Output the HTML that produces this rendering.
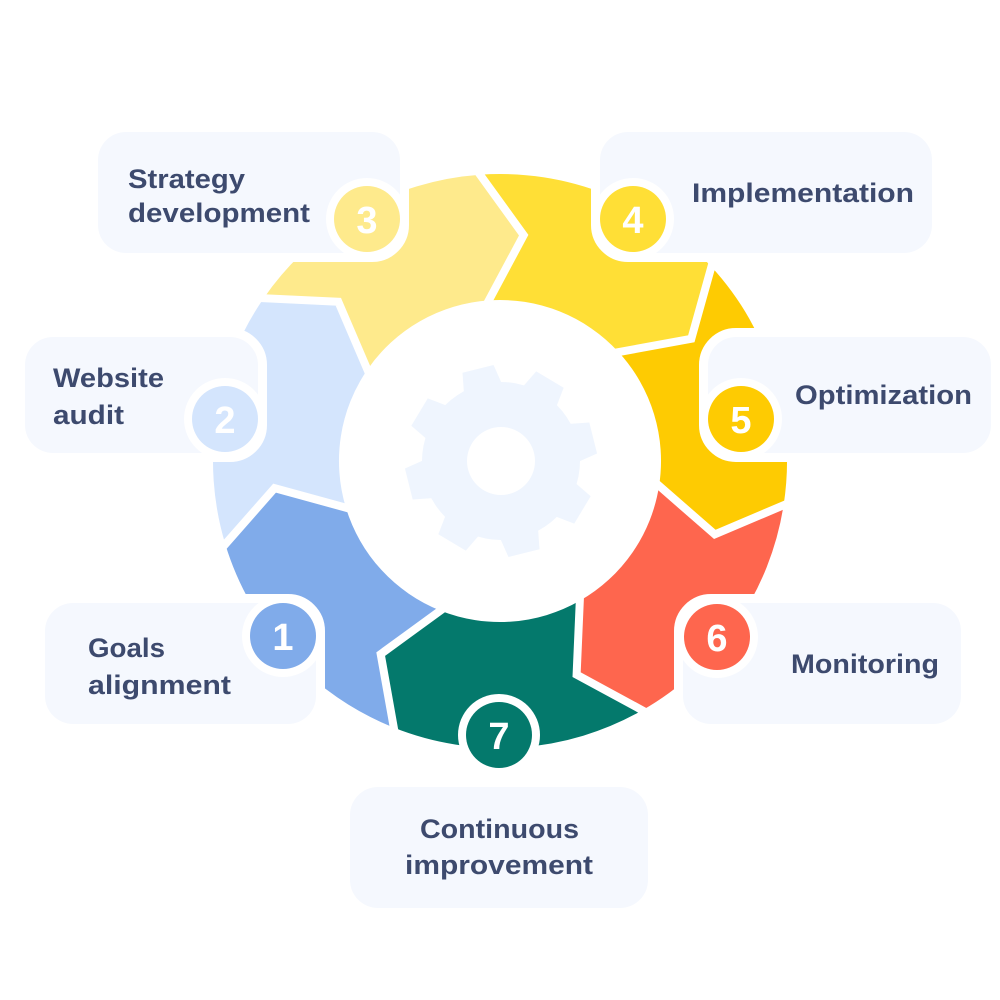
<!DOCTYPE html>
<html>
<head>
<meta charset="utf-8">
<style>
  html, body { margin: 0; padding: 0; background: #ffffff; }
  body { width: 1000px; height: 1000px; overflow: hidden; }
  svg { display: block; }
  .lbl { font-family: "Liberation Sans", Arial, sans-serif; font-weight: bold; font-size: 27px; fill: #3d4a6e; }
  .num { font-family: "Liberation Sans", Arial, sans-serif; font-weight: bold; font-size: 38px; fill: #ffffff; text-anchor: middle; }
</style>
</head>
<body>
<svg width="1000" height="1000" viewBox="0 0 1000 1000" xmlns="http://www.w3.org/2000/svg">
  <rect x="0" y="0" width="1000" height="1000" fill="#ffffff"/>

  <!-- Ring segments -->
  <path fill="#feea8c" d="M 263.7 298.2 A 287 287 0 0 1 480.0 174.7 L 523.7 235.2 L 488.8 300.4 A 161 161 0 0 0 367.4 369.6 L 338.3 301.7 Z"/>
  <path fill="#ffdf36" d="M 480.0 174.7 A 287 287 0 0 1 711.4 266.8 L 691.3 338.8 L 618.6 352.1 A 161 161 0 0 0 488.8 300.4 L 523.7 235.2 Z"/>
  <path fill="#fecb02" d="M 711.4 266.8 A 287 287 0 0 1 783.6 505.2 L 714.8 534.4 L 659.1 485.8 A 161 161 0 0 0 618.6 352.1 L 691.3 338.8 Z"/>
  <path fill="#fe664e" d="M 783.6 505.2 A 287 287 0 0 1 642.3 710.3 L 576.6 674.7 L 579.8 600.8 A 161 161 0 0 0 659.1 485.8 L 714.8 534.4 Z"/>
  <path fill="#04796c" d="M 642.3 710.3 A 287 287 0 0 1 393.8 727.6 L 380.7 654.1 L 440.4 610.6 A 161 161 0 0 0 579.8 600.8 L 576.6 674.7 Z"/>
  <path fill="#80abea" d="M 393.8 727.6 A 287 287 0 0 1 225.3 544.2 L 274.6 488.1 L 345.9 507.7 A 161 161 0 0 0 440.4 610.6 L 380.7 654.1 Z"/>
  <path fill="#d4e5fd" d="M 225.3 544.2 A 287 287 0 0 1 263.7 298.2 L 338.3 301.7 L 367.4 369.6 A 161 161 0 0 0 345.9 507.7 L 274.6 488.1 Z"/>

  <!-- White gaps -->
  <g fill="none" stroke="#ffffff" stroke-width="8" stroke-linejoin="miter" stroke-linecap="square">
    <polyline points="480.0,174.7 523.7,235.2 488.8,300.4"/>
    <polyline points="711.4,266.8 691.3,338.8 618.6,352.1"/>
    <polyline points="783.6,505.2 714.8,534.4 659.1,485.8"/>
    <polyline points="642.3,710.3 576.6,674.7 579.8,600.8"/>
    <polyline points="393.8,727.6 380.7,654.1 440.4,610.6"/>
    <polyline points="225.3,544.2 274.6,488.1 345.9,507.7"/>
    <polyline points="263.7,298.2 338.3,301.7 367.4,369.6"/>
  </g>

  <!-- Gear -->
  <g transform="translate(501 461)" fill="#eff5fe">
    <circle cx="0" cy="0" r="79"/>
    <polygon points="72,-20 95,-16 95,16 72,20" transform="rotate(-14)"/>
    <polygon points="72,-20 95,-16 95,16 72,20" transform="rotate(31)"/>
    <polygon points="72,-20 95,-16 95,16 72,20" transform="rotate(76)"/>
    <polygon points="72,-20 95,-16 95,16 72,20" transform="rotate(121)"/>
    <polygon points="72,-20 95,-16 95,16 72,20" transform="rotate(166)"/>
    <polygon points="72,-20 95,-16 95,16 72,20" transform="rotate(211)"/>
    <polygon points="72,-20 95,-16 95,16 72,20" transform="rotate(256)"/>
    <polygon points="72,-20 95,-16 95,16 72,20" transform="rotate(301)"/>
    <circle cx="0" cy="0" r="34" fill="#ffffff"/>
  </g>

  <!-- Label boxes (white outline + light fill) -->
  <g fill="#f5f8fe" stroke="#ffffff" stroke-width="18" paint-order="stroke">
    <rect x="98" y="132" width="302" height="121" rx="28" ry="28"/>
    <rect x="600" y="132" width="332" height="121" rx="28" ry="28"/>
    <rect x="25" y="337" width="233" height="116" rx="28" ry="28"/>
    <rect x="708" y="337" width="283" height="116" rx="28" ry="28"/>
    <rect x="45" y="603" width="271" height="121" rx="28" ry="28"/>
    <rect x="683" y="603" width="278" height="121" rx="28" ry="28"/>
    <rect x="350" y="787" width="298" height="121" rx="28" ry="28"/>
  </g>

  <!-- Number circles -->
  <g fill="#ffffff">
    <circle cx="283" cy="636" r="41"/>
    <circle cx="225" cy="419" r="41"/>
    <circle cx="367" cy="219" r="41"/>
    <circle cx="633" cy="219" r="41"/>
    <circle cx="741" cy="419" r="41"/>
    <circle cx="717" cy="637" r="41"/>
    <circle cx="499" cy="735" r="41"/>
  </g>
  <circle cx="283" cy="636" r="33" fill="#80abea"/>
  <circle cx="225" cy="419" r="33" fill="#d4e5fd"/>
  <circle cx="367" cy="219" r="33" fill="#feea8c"/>
  <circle cx="633" cy="219" r="33" fill="#ffdf36"/>
  <circle cx="741" cy="419" r="33" fill="#fecb02"/>
  <circle cx="717" cy="637" r="33" fill="#fe664e"/>
  <circle cx="499" cy="735" r="33" fill="#04796c"/>

  <text class="num" x="283" y="650">1</text>
  <text class="num" x="225" y="433">2</text>
  <text class="num" x="367" y="233">3</text>
  <text class="num" x="633" y="233">4</text>
  <text class="num" x="741" y="433">5</text>
  <text class="num" x="717" y="651">6</text>
  <text class="num" x="499" y="749">7</text>

  <!-- Labels -->
  <text class="lbl" x="128" y="188" textLength="117" lengthAdjust="spacingAndGlyphs">Strategy</text>
  <text class="lbl" x="128" y="222" textLength="182" lengthAdjust="spacingAndGlyphs">development</text>
  <text class="lbl" x="692" y="202" textLength="222" lengthAdjust="spacingAndGlyphs">Implementation</text>
  <text class="lbl" x="53" y="387" textLength="111" lengthAdjust="spacingAndGlyphs">Website</text>
  <text class="lbl" x="53" y="424" textLength="71" lengthAdjust="spacingAndGlyphs">audit</text>
  <text class="lbl" x="795" y="404" textLength="177" lengthAdjust="spacingAndGlyphs">Optimization</text>
  <text class="lbl" x="88" y="657" textLength="77" lengthAdjust="spacingAndGlyphs">Goals</text>
  <text class="lbl" x="88" y="694" textLength="143" lengthAdjust="spacingAndGlyphs">alignment</text>
  <text class="lbl" x="791" y="673" textLength="148" lengthAdjust="spacingAndGlyphs">Monitoring</text>
  <text class="lbl" x="420" y="838" textLength="159" lengthAdjust="spacingAndGlyphs">Continuous</text>
  <text class="lbl" x="405" y="874" textLength="188" lengthAdjust="spacingAndGlyphs">improvement</text>
</svg>
</body>
</html>
